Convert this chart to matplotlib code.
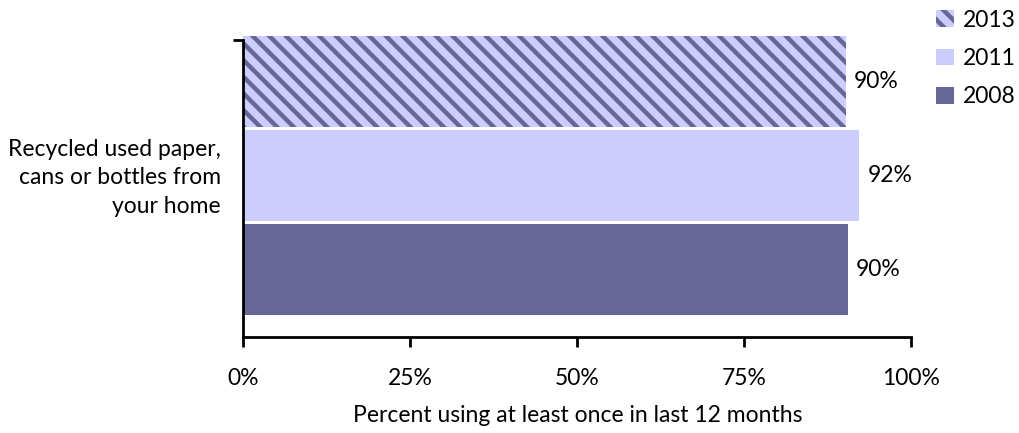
import matplotlib.pyplot as plt
from matplotlib.patches import Patch

# data
category = "Recycled used paper,\ncans or bottles from\nyour home"
years = ["2008", "2011", "2013"]
values = [90.5, 92.2, 90.2]
labels = ["90%", "92%", "90%"]
xticks = [0, 25, 50, 75, 100]
xtick_labels = ["0%", "25%", "50%", "75%", "100%"]

dark = "#666699"
light = "#ccccff"
fs = 16.5

plt.rcParams["font.family"] = ["Lato", "DejaVu Sans"]
plt.rcParams["hatch.linewidth"] = 3.2
plt.rcParams["hatch.color"] = dark

fig = plt.figure(figsize=(10.19, 4.33), dpi=100)
ax = fig.add_axes([0.2385, 0.2217, 0.656, 0.6859])

pos = [0, 1, 2]
bars = ax.barh(pos, values, height=0.97, color=[dark, light, light], linewidth=0)
bars[2].set_hatch("\\\\")
bars[2].set_edgecolor(dark)
bars[2].set_linewidth(0)
bars[2].set_clip_on(False)

for b, lab in zip(bars, labels):
    ax.text(b.get_width() + 1.2, b.get_y() + b.get_height() / 2, lab,
            va="center", ha="left", fontsize=fs)

ax.set_xlim(0, 100)
ax.set_ylim(-0.718, 2.447)
ax.set_xticks(xticks)
ax.set_xticklabels(xtick_labels, fontsize=fs)
ax.set_yticks([])
# category label, centred on the middle bar
ax.annotate(category, xy=(0, 1), xycoords=("axes fraction", "data"),
            xytext=(-16, -1.5), textcoords="offset points",
            ha="right", va="center", fontsize=fs, linespacing=1.45)
ax.set_yticks([2.447], minor=True)
ax.tick_params(axis="y", which="minor", length=7, width=2)
ax.tick_params(axis="x", length=7, width=2, pad=15)
ax.set_xlabel("Percent using at least once in last 12 months", fontsize=fs, labelpad=12)

for s in ["top", "right"]:
    ax.spines[s].set_visible(False)
for s in ["left", "bottom"]:
    ax.spines[s].set_linewidth(2)

handles = [Patch(facecolor=light, edgecolor=dark, hatch="\\\\", linewidth=0, label="2013"),
           Patch(facecolor=light, label="2011"),
           Patch(facecolor=dark, label="2008")]
fig.legend(handles=handles, loc="upper right", bbox_to_anchor=(1.017, 1.025), frameon=False,
           fontsize=fs, handlelength=0.75, handleheight=0.75, handletextpad=0.4,
           labelspacing=0.75)

fig.savefig("out.png", dpi=100)
